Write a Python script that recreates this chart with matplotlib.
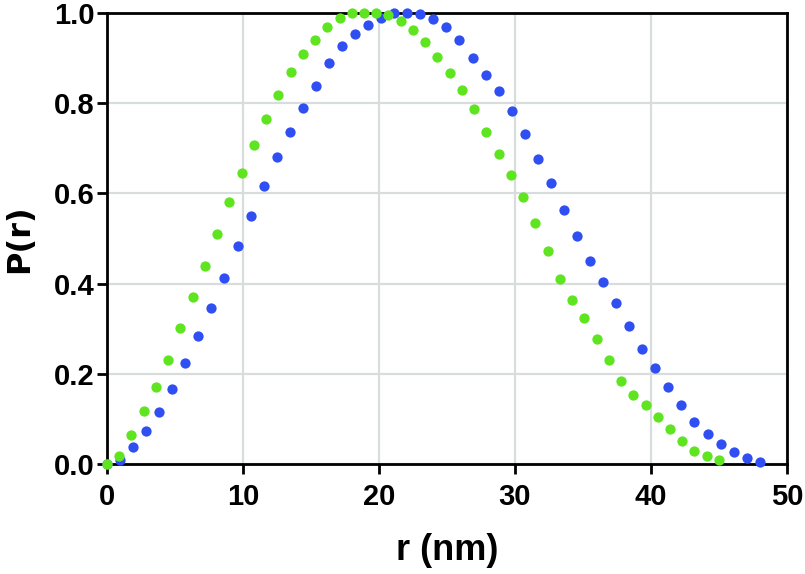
import matplotlib
matplotlib.use("Agg")
import matplotlib.pyplot as plt

# ---- data ----
blue_step = 0.96
blue_y = [0.0, 0.009, 0.038, 0.074, 0.116, 0.167, 0.224, 0.284, 0.347, 0.413,
          0.483, 0.550, 0.616, 0.680, 0.737, 0.789, 0.839, 0.888, 0.927, 0.954,
          0.973, 0.989, 1.000, 1.000, 0.997, 0.987, 0.970, 0.941, 0.901, 0.862,
          0.827, 0.783, 0.731, 0.676, 0.623, 0.564, 0.506, 0.451, 0.404, 0.356,
          0.306, 0.256, 0.212, 0.170, 0.130, 0.093, 0.066, 0.044, 0.027, 0.013,
          0.004]
green_step = 0.9
green_y = [0.0, 0.018, 0.064, 0.118, 0.171, 0.231, 0.301, 0.371, 0.440, 0.509,
           0.580, 0.646, 0.707, 0.766, 0.819, 0.869, 0.908, 0.941, 0.969, 0.988,
           0.999, 1.000, 1.000, 0.996, 0.983, 0.963, 0.936, 0.902, 0.867, 0.830,
           0.786, 0.736, 0.687, 0.640, 0.593, 0.535, 0.472, 0.411, 0.364, 0.324,
           0.278, 0.230, 0.185, 0.153, 0.130, 0.105, 0.078, 0.050, 0.029, 0.017,
           0.008]
blue_x = [blue_step * i for i in range(len(blue_y))]
green_x = [green_step * i for i in range(len(green_y))]

x_ticks = [0, 10, 20, 30, 40, 50]
y_ticks = [0.0, 0.2, 0.4, 0.6, 0.8, 1.0]
y_tick_labels = ["0.0", "0.2", "0.4", "0.6", "0.8", "1.0"]

plt.rcParams["font.family"] = ["Liberation Sans", "DejaVu Sans"]
plt.rcParams["font.weight"] = "bold"

fig = plt.figure(figsize=(8.05, 5.74), dpi=100)
ax = fig.add_axes([0.1329, 0.1916, 0.8447, 0.7858])

ax.plot(blue_x, blue_y, "o", color="#2f4ff2", markersize=7.4, markeredgewidth=0,
        clip_on=False, zorder=3)
ax.plot(green_x, green_y, "o", color="#5fe420", markersize=7.4, markeredgewidth=0,
        clip_on=False, zorder=4)

ax.set_xlim(0, 50)
ax.set_ylim(0, 1.0)
ax.set_xticks(x_ticks)
ax.set_yticks(y_ticks)
ax.set_yticklabels(y_tick_labels)
ax.grid(True, color="#d8dcdc", linewidth=1.6)
ax.set_axisbelow(True)
for s in ax.spines.values():
    s.set_linewidth(2)
    s.set_color("black")
ax.tick_params(direction="out", length=7, width=2, labelsize=21)
ax.tick_params(axis="x", pad=7)
ax.tick_params(axis="y", pad=2)
for lab in ax.get_xticklabels() + ax.get_yticklabels():
    lab.set_fontweight("bold")
ax.set_xlabel("r (nm)", fontsize=26, fontweight="bold")
ax.set_ylabel("P(r)", fontsize=23, fontweight="bold", family=["DejaVu Sans"])
ax.xaxis.set_label_coords(0.5, -0.152)
ax.yaxis.set_label_coords(-0.106, 0.5)

fig.savefig("out.png", dpi=100)
